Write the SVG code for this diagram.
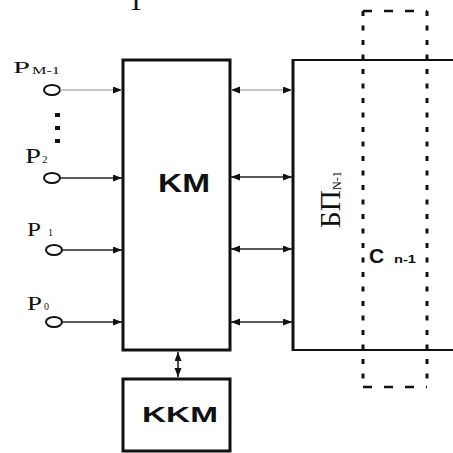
<svg xmlns="http://www.w3.org/2000/svg" width="453" height="453" viewBox="0 0 453 453">
<defs>
<marker id="ah" markerUnits="userSpaceOnUse" markerWidth="10" markerHeight="8" refX="9" refY="3.5" orient="auto-start-reverse">
<path d="M0,0 L9,3.5 L0,7 z" fill="#111"/>
</marker>
</defs>
<style>
.box{fill:none;stroke:#111;stroke-width:3}
.thin{fill:none;stroke:#111;stroke-width:2}
.conn{fill:none;stroke:#222;stroke-width:1.6}
.grey{stroke:#b0b0b0}
.term{fill:#fff;stroke:#111;stroke-width:2}
.serif{font-family:"Liberation Serif","Times New Roman",serif;fill:#111}
.sans{font-family:"Liberation Sans",Arial,sans-serif;font-weight:bold;fill:#111}
.dot{fill:none;stroke:#111;stroke-width:3;stroke-dasharray:5 9.5}
.dash{fill:none;stroke:#111;stroke-width:2.5;stroke-dasharray:9 12}
</style>
<rect width="453" height="453" fill="#fff"/>
<text class="serif" x="127.5" y="10" font-size="28">Т</text>

<g id="km">
<rect class="box" x="123" y="60" width="107" height="290"/>
<text class="sans" x="158" y="192" font-size="25" textLength="52" lengthAdjust="spacingAndGlyphs">KM</text>
</g>
<g id="kkm">
<rect class="box" x="123" y="379" width="107" height="72"/>
<text class="sans" x="142" y="422" font-size="22" textLength="76" lengthAdjust="spacingAndGlyphs">KKM</text>
</g>
<g id="bp">
<path class="thin" d="M453,60 H293 M293,350 H453"/>
<path class="box" d="M293,59 V351"/>
<text class="serif" transform="translate(340,228) rotate(-90)" font-size="30"><tspan textLength="38" lengthAdjust="spacingAndGlyphs">БП</tspan><tspan font-size="12" dy="1">N-1</tspan></text>
</g>
<g id="cell">
<path class="dot" d="M363,11 V387 M427,11 V387"/>
<path class="dash" d="M363,11 H427 M363,387 H427"/>
<text class="sans" x="369" y="263" font-size="21">C</text>
<text class="sans" x="394" y="263" font-size="10" textLength="22" lengthAdjust="spacingAndGlyphs">n-1</text>
</g>

<g id="inputs">
<g id="in-m1">
<text class="serif" x="13" y="73" font-size="17" textLength="17" lengthAdjust="spacingAndGlyphs">P</text>
<text class="serif" x="32" y="74" font-size="11" textLength="28" lengthAdjust="spacingAndGlyphs">M-1</text>
<ellipse class="term" cx="52" cy="90" rx="8" ry="5"/>
</g>
<g id="dots">
<rect x="55" y="113" width="5" height="4" fill="#111"/>
<rect x="55" y="126" width="5" height="4" fill="#111"/>
<rect x="55" y="139" width="5" height="4" fill="#111"/>
</g>
<g id="in-2">
<text class="serif" x="25" y="163" font-size="20" textLength="16" lengthAdjust="spacingAndGlyphs">P</text>
<text class="serif" x="42" y="163" font-size="11">2</text>
<ellipse class="term" cx="52" cy="178" rx="8" ry="5"/>
</g>
<g id="in-1">
<text class="serif" x="27" y="236" font-size="18" textLength="14" lengthAdjust="spacingAndGlyphs">P</text>
<text class="serif" x="48" y="236" font-size="10">1</text>
<ellipse class="term" cx="54" cy="250" rx="8" ry="5"/>
</g>
<g id="in-0">
<text class="serif" x="27" y="310" font-size="18" textLength="15" lengthAdjust="spacingAndGlyphs">P</text>
<text class="serif" x="44" y="310" font-size="10">0</text>
<ellipse class="term" cx="54" cy="322" rx="8" ry="5"/>
</g>
</g>

<g id="connectors">
<path class="conn grey" d="M60,90 H122" marker-end="url(#ah)"/>
<path class="conn" d="M60,178 H122" marker-end="url(#ah)"/>
<path class="conn" d="M62,250 H122" marker-end="url(#ah)"/>
<path class="conn" d="M62,322 H122" marker-end="url(#ah)"/>
<path class="conn grey" d="M231,90 H292" marker-start="url(#ah)" marker-end="url(#ah)"/>
<path class="conn" d="M231,177 H292" marker-start="url(#ah)" marker-end="url(#ah)"/>
<path class="conn" d="M231,249 H292" marker-start="url(#ah)" marker-end="url(#ah)"/>
<path class="conn" d="M231,322 H292" marker-start="url(#ah)" marker-end="url(#ah)"/>
<path class="conn" d="M178,352 V377" marker-start="url(#ah)" marker-end="url(#ah)"/>
</g>
</svg>
